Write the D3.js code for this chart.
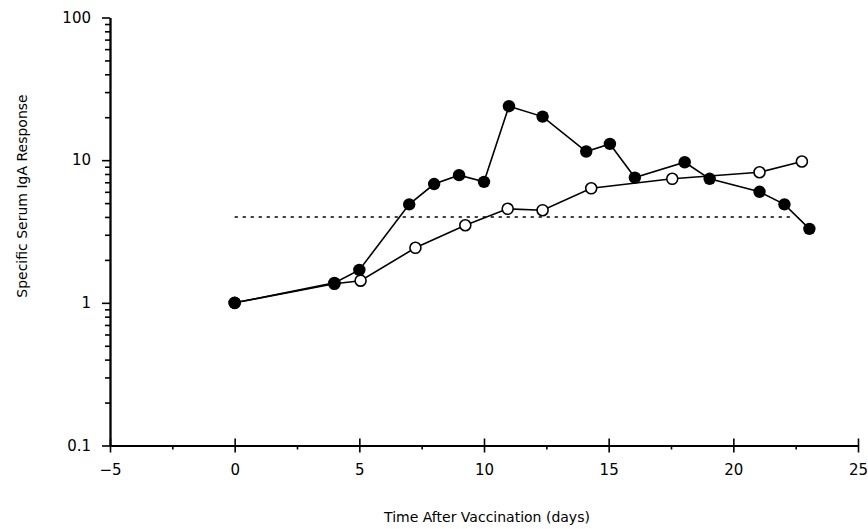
<!DOCTYPE html>
<html lang="en">
<head>
    <meta charset="UTF-8">
    <title>Specific Serum IgA Response</title>
    <script src="https://d3js.org/d3.v7.min.js"></script>
    <style>
        body { margin: 0; background: #fff; }
        .tick-label { font-size: 15px; font-family: "DejaVu Sans", sans-serif; }
        .axis-title { font-size: 14px; font-family: "DejaVu Sans", sans-serif; }
    </style>
</head>
<body>
<script>
    // values
    let filledDays = [0, 4, 5, 7, 8, 9, 10, 11, 12.35, 14.1, 15.05, 16.05, 18.05, 19.05, 21.05, 22.05, 23.05];
    let filledVals = [1, 1.38, 1.7, 4.9, 6.8, 7.85, 7.05, 23.9, 20.2, 11.5, 13.0, 7.55, 9.67, 7.4, 6.0, 4.9, 3.3];
    let openDays = [0, 4, 5.05, 7.25, 9.25, 10.95, 12.35, 14.3, 17.55, 21.05, 22.75];
    let openVals = [1, 1.36, 1.43, 2.43, 3.5, 4.56, 4.46, 6.35, 7.4, 8.23, 9.78];
    let thresholdValue = 4;
    let thresholdDays = [0, 22.3];
    let xTicks = [-5, 0, 5, 10, 15, 20, 25];
    let yTicks = [0.1, 1, 10, 100];
    let yTickLabels = ["0.1", "1", "10", "100"];

    let width = 868;
    let height = 529;

    let svg = d3.select("body").append("svg")
        .attr("width", width)
        .attr("height", height);

    let x = d3.scaleLinear().domain([-5, 25]).range([110, 858]);
    let y = d3.scaleLog().domain([0.1, 100]).range([445.5, 17.5]);

    // minor ticks
    let xMinor = d3.range(-2.5, 25, 5);
    let yMinor = [];
    yTicks.slice(0, -1).forEach(t => {
        for (let k = 2; k <= 9; k++) yMinor.push(t * k);
    });

    // y axis
    svg.append("g")
        .attr("transform", "translate(" + x(-5) + ",0)")
        .call(d3.axisLeft(y).tickValues(yMinor).tickSize(5).tickSizeOuter(0).tickFormat(""))
        .call(g => g.selectAll("line, path").attr("stroke", "#000").attr("stroke-width", 1.6));

    let yAxis = svg.append("g")
        .attr("transform", "translate(" + x(-5) + ",0)")
        .call(d3.axisLeft(y).tickValues(yTicks).tickSize(8).tickSizeOuter(0)
            .tickFormat((d, i) => yTickLabels[i]));
    yAxis.attr("font-size", null).attr("font-family", null);
    yAxis.select(".domain").attr("stroke", "#000").attr("stroke-width", 2);
    yAxis.selectAll("line").attr("stroke", "#000").attr("stroke-width", 1.6);
    yAxis.selectAll("text")
        .attr("class", "tick-label")
        .attr("x", -19)
        .attr("fill", "#000");

    // x axis
    svg.append("g")
        .attr("transform", "translate(0," + y(0.1) + ")")
        .call(d3.axisBottom(x).tickValues(xMinor).tickSize(4).tickSizeOuter(0).tickFormat(""))
        .call(g => g.selectAll("line, path").attr("stroke", "#000").attr("stroke-width", 1.6));

    let xAxis = svg.append("g")
        .attr("transform", "translate(0," + y(0.1) + ")")
        .call(d3.axisBottom(x).tickValues(xTicks).tickSize(7).tickSizeOuter(0));
    xAxis.attr("font-size", null).attr("font-family", null);
    xAxis.select(".domain").attr("stroke", "#000").attr("stroke-width", 2);
    xAxis.selectAll(".tick line").attr("y1", -7).attr("stroke", "#000").attr("stroke-width", 1.6);
    xAxis.selectAll("text")
        .attr("class", "tick-label")
        .attr("y", 19)
        .attr("fill", "#000");

    // axis titles
    svg.append("text")
        .attr("class", "axis-title")
        .attr("x", 487)
        .attr("y", 522)
        .attr("text-anchor", "middle")
        .text("Time After Vaccination (days)");

    svg.append("text")
        .attr("class", "axis-title")
        .attr("transform", "translate(27,196) rotate(-90)")
        .attr("text-anchor", "middle")
        .text("Specific Serum IgA Response");

    // threshold
    svg.append("line")
        .attr("x1", x(thresholdDays[0]))
        .attr("x2", x(thresholdDays[1]))
        .attr("y1", y(thresholdValue))
        .attr("y2", y(thresholdValue))
        .attr("stroke", "#000")
        .attr("stroke-width", 1.6)
        .attr("stroke-dasharray", "3.2,4.8");

    let line = d3.line()
        .x(d => x(d[0]))
        .y(d => y(d[1]));

    let openData = openDays.map((d, i) => [d, openVals[i]]);
    let filledData = filledDays.map((d, i) => [d, filledVals[i]]);

    // open circles series
    svg.append("path")
        .datum(openData)
        .attr("d", line)
        .attr("fill", "none")
        .attr("stroke", "#000")
        .attr("stroke-width", 1.6);

    svg.selectAll(".open-pt")
        .data(openData)
        .enter().append("circle")
        .attr("class", "open-pt")
        .attr("cx", d => x(d[0]))
        .attr("cy", d => y(d[1]))
        .attr("r", 5.5)
        .attr("fill", "#fff")
        .attr("stroke", "#000")
        .attr("stroke-width", 1.6);

    // filled circles series
    svg.append("path")
        .datum(filledData)
        .attr("d", line)
        .attr("fill", "none")
        .attr("stroke", "#000")
        .attr("stroke-width", 1.6);

    svg.selectAll(".filled-pt")
        .data(filledData)
        .enter().append("circle")
        .attr("class", "filled-pt")
        .attr("cx", d => x(d[0]))
        .attr("cy", d => y(d[1]))
        .attr("r", 6.2)
        .attr("fill", "#000");
</script>
</body>
</html>
